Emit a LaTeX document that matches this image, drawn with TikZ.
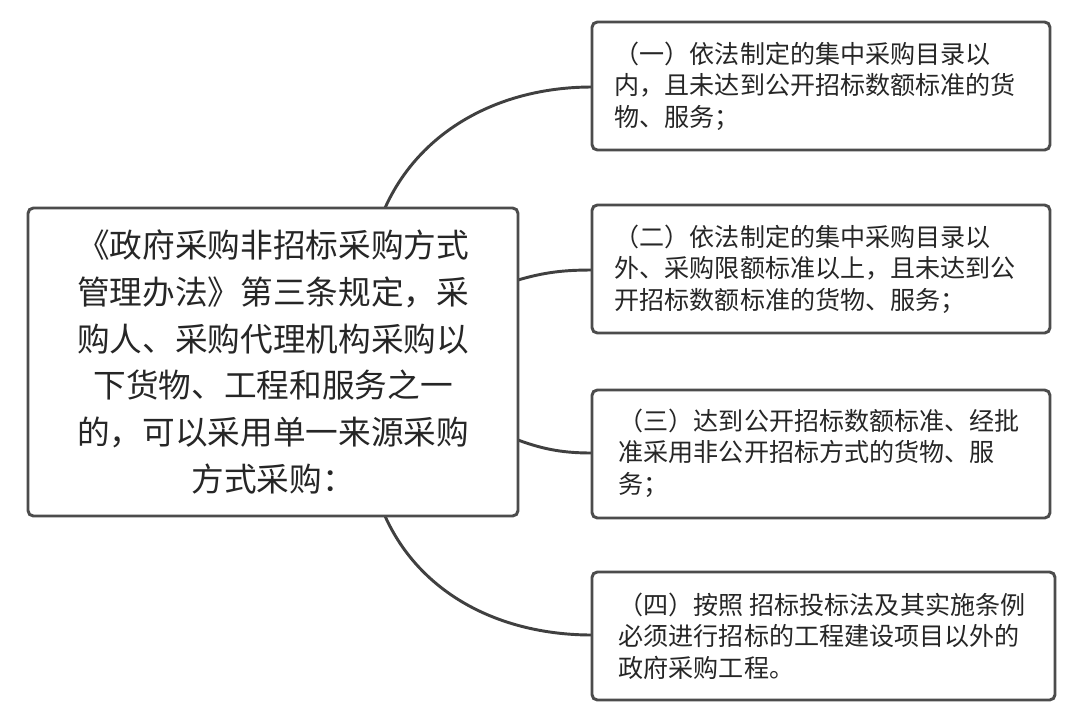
\documentclass[tikz,border=0pt]{standalone}
\usepackage{fontspec}
\setmainfont{Noto Sans CJK SC}
\begin{document}
\begin{tikzpicture}[x=0.75pt,y=-0.75pt]
\tikzset{
 box/.style={draw=black!70,line width=2.2pt,rounded corners=4pt,fill=white,inner sep=0pt},
 link/.style={draw=black!75,line width=2.2pt},
 big/.style={font=\fontsize{24.5pt}{35pt}\selectfont,align=center,text=black!85},
 small/.style={font=\fontsize{18.8pt}{23.5pt}\selectfont,align=left,text=black!85,anchor=west}
}
\useasboundingbox (0,0) rectangle (1080,726);
\fill[white] (0,0) rectangle (1080,726);
\coordinate (ltop) at (385,208);
\coordinate (lr1) at (518,280);
\coordinate (lr2) at (518,440);
\coordinate (lbot) at (385,516);
\coordinate (b1) at (592,87);
\coordinate (b2) at (592,270);
\coordinate (b3) at (592,453);
\coordinate (b4) at (592,635);
\draw[link] (ltop) .. controls (420,130) and (500,87) .. (b1);
\draw[link] (lr1) .. controls (545,272) and (565,270) .. (b2);
\draw[link] (lr2) .. controls (545,450) and (565,453) .. (b3);
\draw[link] (lbot) .. controls (420,594) and (500,635) .. (b4);
\draw[box] (28,208) rectangle (518,516);
\node[big] (L) at (273,362) {《政府采购非招标采购方式\\管理办法》第三条规定，采\\购人、采购代理机构采购以\\下货物、工程和服务之一\\的，可以采用单一来源采购\\方式采购：};
\draw[box] (592,22) rectangle (1050,150);
\node[small] (R1) at (610,86) {（一）依法制定的集中采购目录以\\内，且未达到公开招标数额标准的货\\物、服务；};
\draw[box] (592,205) rectangle (1050,333);
\node[small] (R2) at (610,269) {（二）依法制定的集中采购目录以\\外、采购限额标准以上，且未达到公\\开招标数额标准的货物、服务；};
\draw[box] (592,390) rectangle (1050,518);
\node[small] (R3) at (614,453) {（三）达到公开招标数额标准、经批\\准采用非公开招标方式的货物、服\\务；};
\draw[box] (592,572) rectangle (1055,700);
\node[small] (R4) at (614,636) {（四）按照 招标投标法及其实施条例\\必须进行招标的工程建设项目以外的\\政府采购工程。};
\end{tikzpicture}
\end{document}
